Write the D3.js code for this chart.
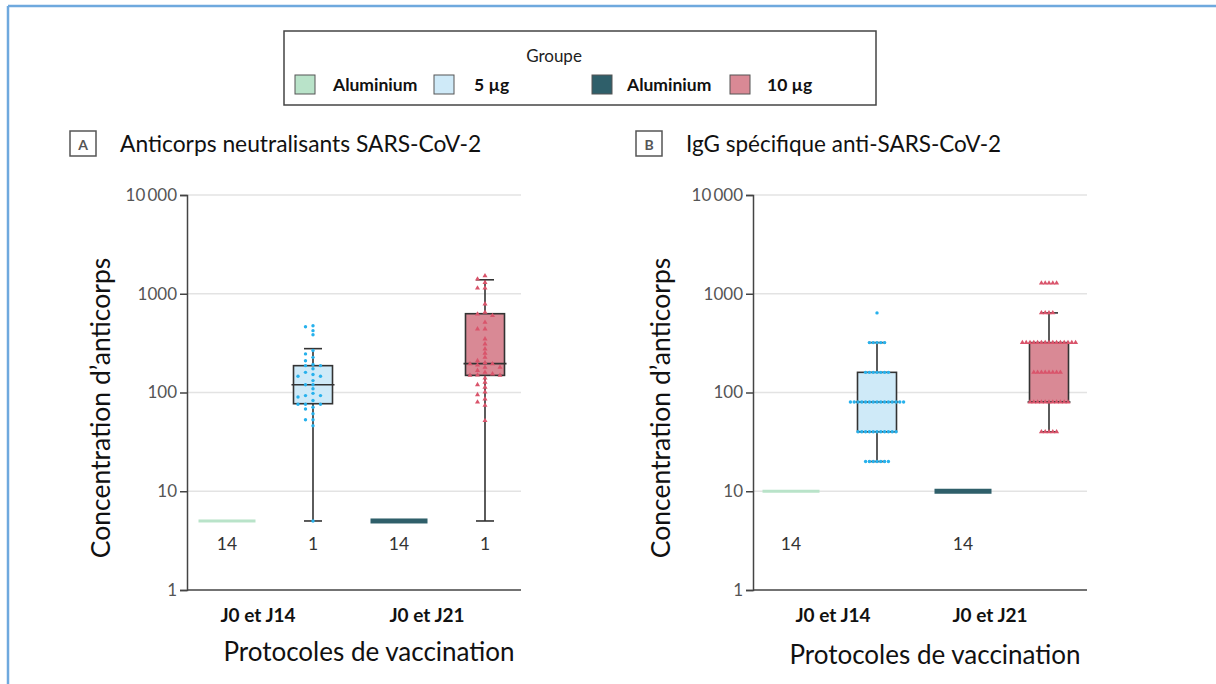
<!DOCTYPE html>
<html><head><meta charset="utf-8">
<script src="https://cdn.jsdelivr.net/npm/d3@7"></script>
<style>
html,body{margin:0;padding:0;background:#fff;}
svg text{font-family:Lato,"Open Sans",sans-serif;}
</style></head>
<body><svg id="c" width="1216" height="684"></svg>
<script>
// ---------- DATA ----------
const legendTitle = "Groupe";
const legendLabels = ["Aluminium", "5 µg", "Aluminium", "10 µg"];
const groupKeys = ["alu14", "vac14", "alu21", "vac21"];
const categories = ["J0 et J14", "J0 et J21"];
const tickValues = [1, 10, 100, 1000, 10000];
const tickLabels = ["1", "10", "100", "1000", "10\u2009000"];
const xTitle = "Protocoles de vaccination";
const yTitle = "Concentration d\u2019anticorps";
const titleA = "Anticorps neutralisants SARS-CoV-2";
const titleB = "IgG spécifique anti-SARS-CoV-2";

// Panel A box statistics (per group)
const aQ1 = [5, 77, 5, 149];
const aMedian = [5, 120, 5, 196];
const aQ3 = [5, 187, 5, 628];
const aLow = [5, 5, 5, 5];
const aHigh = [5, 278, 5, 1385];
const aCounts = ["14", "1", "14", "1"];
const aDots5 = [475, 464, 423, 385, 266, 246, 227, 210, 192, 187, 187, 174, 160, 152, 146, 146, 132, 120, 120, 109, 98, 93, 93, 90, 83, 76, 76, 76, 71, 68, 61, 53, 53, 46, 5];
const aDots10 = [1520, 1406, 1300, 1141, 1141, 787, 648, 623, 600, 514, 440, 440, 348, 310, 276, 250, 227, 210, 200, 195, 195, 190, 180, 180, 167, 160, 154, 150, 149, 149, 140, 127, 120, 113, 101, 95, 86, 80, 74, 52];

// Panel B box statistics
const bQ1 = [10, 40, 10, 80];
const bMedian = [10, 80, 10, 80];
const bQ3 = [10, 160, 10, 320];
const bLow = [10, 20, 10, 40];
const bHigh = [10, 320, 10, 640];
const bCounts = ["14", "", "14", ""];
const bDots5 = [20,20,20,20,20,20,20, 40,40,40,40,40,40,40,40,40,40,40, 80,80,80,80,80,80,80,80,80,80,80,80,80,80,80, 160,160,160,160,160,160,160, 320,320,320,320,320, 640];
const bDots10 = [40,40,40,40,40, 80,80,80,80,80,80,80,80,80,80,80, 160,160,160,160,160,160,160,160, 320,320,320,320,320,320,320,320,320,320,320,320,320,320,320, 640,640,640,640, 1280,1280,1280,1280,1280];

// ---------- STYLE ----------
const fills = {alu14: "#b9e3c9", vac14: "#cfeaf8", alu21: "#2f5f6a", vac21: "#d98995"};
const dotColor = {vac14: "#27b1ec", vac21: "#d9546b"};
const svg = d3.select("#c");

// outer frame
svg.append("line").attr("x1", 8).attr("x2", 1216).attr("y1", 6).attr("y2", 6).attr("stroke", "#6fa9de").attr("stroke-width", 2.5);
svg.append("line").attr("x1", 8).attr("x2", 8).attr("y1", 6).attr("y2", 684).attr("stroke", "#6fa9de").attr("stroke-width", 2.5);

// legend
const lg = svg.append("g");
lg.append("rect").attr("x", 284).attr("y", 31).attr("width", 592).attr("height", 74).attr("fill", "#fff").attr("stroke", "#444").attr("stroke-width", 1.5);
lg.append("text").attr("x", 554).attr("y", 62).attr("text-anchor", "middle").attr("font-size", 17).attr("fill", "#222").text(legendTitle);
const legX = d3.scaleOrdinal().domain(groupKeys).range([295, 434, 592, 730]);
const legTextX = d3.scaleOrdinal().domain(groupKeys).range([333, 474, 627, 767]);
groupKeys.forEach((k, i) => {
  lg.append("rect").attr("x", legX(k)).attr("y", 75).attr("width", 20).attr("height", 19).attr("fill", fills[k]).attr("stroke", "#555").attr("stroke-width", 1);
  lg.append("text").attr("x", legTextX(k)).attr("y", 91).attr("font-size", 17.5).attr("font-weight", "bold").attr("fill", "#111").text(legendLabels[i]);
});

// beeswarm-ish placement (deterministic)
function swarm(values, yScale, slot, minDy) {
  const idx = values.map((v, i) => i).sort((a, b) => values[b] - values[a]);
  const placed = [];
  const out = new Array(values.length);
  idx.forEach(i => {
    const y = yScale(values[i]);
    for (let s = 0; s < 40; s++) {
      const k = s === 0 ? 0 : (s % 2 ? -Math.ceil(s / 2) : Math.ceil(s / 2));
      if (!placed.some(p => p.k === k && Math.abs(p.y - y) < minDy)) {
        placed.push({k, y});
        out[i] = {dx: k * slot, y};
        break;
      }
    }
  });
  return out;
}

function panel(cfg) {
  const g = svg.append("g");
  const y = d3.scaleLog().domain([1, 10000]).range([590, 195]);
  const x = d3.scaleBand().domain(groupKeys).range([cfg.bandStart, cfg.bandStart + 344]).padding(0);
  const xc = d3.scalePoint().domain(categories).range(cfg.catRange);
  const x0 = cfg.axisX, x1 = cfg.axisX + 334;

  // grid
  g.selectAll(".grid").data(tickValues.slice(1)).join("line")
    .attr("x1", x0).attr("x2", x1).attr("y1", d => y(d)).attr("y2", d => y(d))
    .attr("stroke", "#e3e3e3").attr("stroke-width", 1.5);

  // y axis
  const ya = d3.axisLeft(y).tickValues(tickValues).tickFormat((d, i) => tickLabels[i]).tickSize(7).tickPadding(3);
  const yg = g.append("g").attr("transform", `translate(${x0},0)`).call(ya);
  yg.select(".domain").attr("stroke", "#444").attr("stroke-width", 1.5);
  yg.selectAll(".tick line").attr("stroke", "#444").attr("stroke-width", 1.5);
  yg.selectAll(".tick text").attr("font-size", 17).attr("fill", "#555").style("font-family", "Lato");
  // x axis line
  g.append("line").attr("x1", x0).attr("x2", x1).attr("y1", 590).attr("y2", 590).attr("stroke", "#444").attr("stroke-width", 1.5);

  // boxes
  groupKeys.forEach((k, i) => {
    const cx = x(k) + x.bandwidth() / 2;
    if (cfg.q1[i] === cfg.q3[i] && cfg.low[i] === cfg.high[i]) {
      const h = k === "alu21" ? 5 : 3;
      g.append("rect").attr("x", cx - 28.5).attr("y", y(cfg.median[i]) - h / 2).attr("width", 57).attr("height", h)
        .attr("fill", fills[k]);
      return;
    }
    const bw = 39, cw = 18;
    g.append("line").attr("x1", cx).attr("x2", cx).attr("y1", y(cfg.high[i])).attr("y2", y(cfg.low[i])).attr("stroke", "#333").attr("stroke-width", 1.6);
    [cfg.high[i], cfg.low[i]].forEach(v => g.append("line").attr("x1", cx - cw / 2).attr("x2", cx + cw / 2).attr("y1", y(v)).attr("y2", y(v)).attr("stroke", "#333").attr("stroke-width", 1.6));
    g.append("rect").attr("x", cx - bw / 2).attr("y", y(cfg.q3[i])).attr("width", bw).attr("height", y(cfg.q1[i]) - y(cfg.q3[i]))
      .attr("fill", fills[k]).attr("stroke", "#333").attr("stroke-width", 1.6);
    g.append("line").attr("x1", cx - bw / 2 - 2).attr("x2", cx + bw / 2 + 2).attr("y1", y(cfg.median[i])).attr("y2", y(cfg.median[i])).attr("stroke", "#333").attr("stroke-width", 1.6);
    const dots = cfg.dots[k];
    if (dots) {
      const pos = swarm(dots, y, cfg.slot, cfg.minDy);
      if (k === "vac14") {
        g.append("g").selectAll("circle").data(pos).join("circle")
          .attr("cx", d => cx + d.dx).attr("cy", d => d.y).attr("r", 1.7).attr("fill", dotColor[k]);
      } else {
        const tri = d3.symbol().type(d3.symbolTriangle).size(11);
        g.append("g").selectAll("path").data(pos).join("path")
          .attr("d", tri).attr("transform", d => `translate(${cx + d.dx},${d.y})`).attr("fill", dotColor[k]);
      }
    }
  });
  // counts
  groupKeys.forEach((k, i) => {
    g.append("text").attr("x", x(k) + x.bandwidth() / 2).attr("y", 550).attr("text-anchor", "middle")
      .attr("font-size", 17.5).attr("fill", "#333").text(cfg.counts[i]);
  });
  // categories
  g.selectAll(".cat").data(categories).join("text").attr("x", d => xc(d)).attr("y", 622).attr("text-anchor", "middle")
    .attr("font-size", 19).attr("font-weight", "bold").attr("fill", "#111").text(d => d);
  g.append("text").attr("x", cfg.axisX + 182).attr("y", cfg.xTitleY).attr("text-anchor", "middle").attr("font-size", 26).attr("fill", "#111").text(xTitle);
  g.append("text").attr("transform", `translate(${cfg.axisX + cfg.yTitleDx},408) rotate(-90)`).attr("text-anchor", "middle").attr("font-size", 26.5).attr("fill", "#111").text(yTitle);
  // panel title
  g.append("rect").attr("x", cfg.axisX - 117).attr("y", 131).attr("width", 26).attr("height", 25).attr("fill", "#fff").attr("stroke", "#555").attr("stroke-width", 1.5);
  g.append("text").attr("x", cfg.axisX - 104).attr("y", 149.5).attr("text-anchor", "middle").attr("font-size", 14).attr("font-weight", "bold").attr("fill", "#555").text(cfg.letter);
  g.append("text").attr("x", cfg.axisX - 67).attr("y", 152).attr("font-size", cfg.titleSize).attr("fill", "#111").text(cfg.title);
}

panel({axisX: 187, bandStart: 184, catRange: [258, 427], xTitleY: 661, yTitleDx: -77, titleSize: 22.8, letter: "A", title: titleA,
  q1: aQ1, median: aMedian, q3: aQ3, low: aLow, high: aHigh, counts: aCounts,
  dots: {vac14: aDots5, vac21: aDots10}, slot: 7.5, minDy: 4});
panel({axisX: 753, bandStart: 748, catRange: [833, 990], xTitleY: 664, yTitleDx: -83, titleSize: 22.5, letter: "B", title: titleB,
  q1: bQ1, median: bMedian, q3: bQ3, low: bLow, high: bHigh, counts: bCounts,
  dots: {vac14: bDots5, vac21: bDots10}, slot: 3.8, minDy: 3});
</script></body></html>
